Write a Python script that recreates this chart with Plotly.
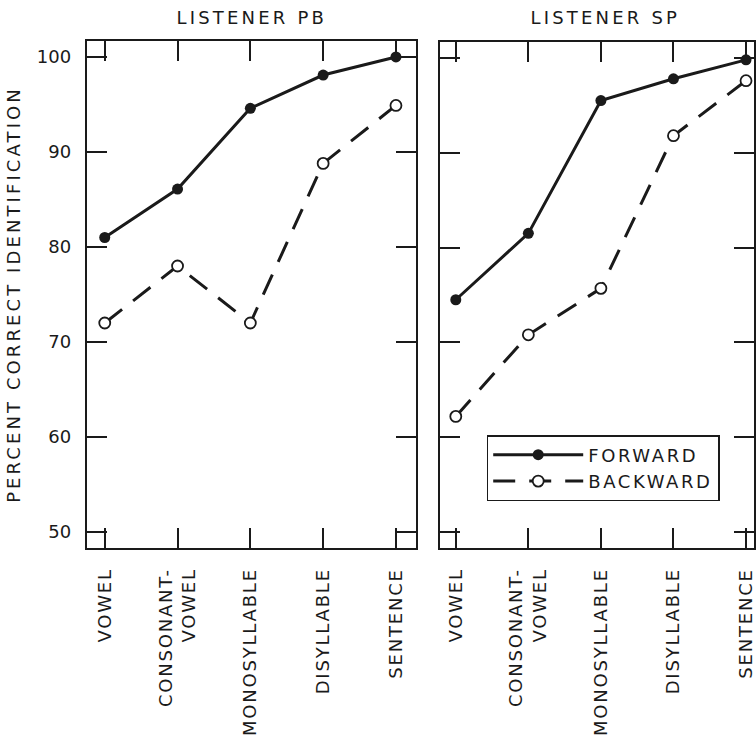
import plotly.graph_objects as go

categories = ["VOWEL", "CONSONANT-<br>VOWEL", "MONOSYLLABLE", "DISYLLABLE", "SENTENCE"]
pb_forward = [81.0, 86.1, 94.6, 98.1, 100.0]
pb_backward = [72.0, 78.0, 72.0, 88.8, 94.9]
sp_forward = [74.5, 81.5, 95.5, 97.8, 99.8]
sp_backward = [62.2, 70.8, 75.7, 91.8, 97.6]
y_ticks = [50, 60, 70, 80, 90, 100]

W, H = 756, 743
FONT = "DejaVu Sans"
INK = "#1a1a1a"
xpos = list(range(len(categories)))

fig = go.Figure()

def add_panel(fwd, bwd, xa, ya, showlegend):
    fig.add_trace(go.Scatter(
        x=xpos, y=fwd, mode="lines+markers", name="FORWARD",
        line=dict(color=INK, width=3),
        marker=dict(symbol="circle", size=11, color=INK),
        xaxis=xa, yaxis=ya, showlegend=showlegend))
    fig.add_trace(go.Scatter(
        x=xpos, y=bwd, mode="lines+markers", name="BACKWARD",
        line=dict(color=INK, width=3, dash="22px,14px"),
        marker=dict(symbol="circle", size=11, color="white",
                    line=dict(color=INK, width=1.8)),
        xaxis=xa, yaxis=ya, showlegend=showlegend))

add_panel(pb_forward, pb_backward, "x", "y", False)
add_panel(sp_forward, sp_backward, "x2", "y2", True)

def px_x(p):
    return p / W

def px_y(p):
    return 1 - p / H

axis_common = dict(
    showline=True, linecolor=INK, linewidth=2, mirror="ticks",
    ticks="inside", ticklen=20, tickwidth=1.6, tickcolor=INK,
    showgrid=False, zeroline=False,
)

xrange_left = [-0.247, 4.274]
xrange_right = [-0.22, 4.11]
yrange = [48.32, 101.68]

fig.update_layout(
    width=W, height=H,
    margin=dict(l=0, r=0, t=0, b=0),
    paper_bgcolor="white", plot_bgcolor="white",
    font=dict(family=FONT, size=18, color=INK),
    xaxis=dict(domain=[px_x(87), px_x(417)], range=xrange_left,
               tickvals=xpos, ticktext=categories, tickangle=-90,
               tickfont=dict(size=18), ticklabelstandoff=11,
               anchor="y", **axis_common),
    yaxis=dict(domain=[px_y(548), px_y(41)], range=yrange,
               tickvals=y_ticks, tickfont=dict(size=18),
               ticklabelstandoff=10, anchor="x",
               title=dict(text="PERCENT CORRECT IDENTIFICATION",
                          font=dict(size=18), standoff=12),
               automargin=False, **axis_common),
    xaxis2=dict(domain=[px_x(441), 1.0], range=xrange_right,
                tickvals=xpos, ticktext=categories, tickangle=-90,
                tickfont=dict(size=18), ticklabelstandoff=11,
                anchor="y2", **axis_common),
    yaxis2=dict(domain=[px_y(548), px_y(42)], range=yrange,
                tickvals=y_ticks, showticklabels=False, anchor="x2",
                **axis_common),
    legend=dict(x=px_x(488), y=px_y(435), xanchor="left", yanchor="top",
                bordercolor=INK, borderwidth=1.5, bgcolor="white",
                font=dict(size=18), itemwidth=90, tracegroupgap=0),
    annotations=[
        dict(text="LISTENER PB", x=px_x(252), y=px_y(18), xref="paper",
             yref="paper", showarrow=False, xanchor="center",
             yanchor="middle", font=dict(size=18)),
        dict(text="LISTENER SP", x=px_x(607), y=px_y(18), xref="paper",
             yref="paper", showarrow=False, xanchor="center",
             yanchor="middle", font=dict(size=18)),
    ],
)

# Letter-spaced lettering as in the original figure; applied as a stylesheet,
# then the legend font is touched so Plotly re-measures its box with the spacing.
post = """
var gd = document.getElementsByClassName('plotly-graph-div')[0];
var st = document.createElement('style');
st.textContent = '.annotation-text{letter-spacing:3.2px}' +
  '.ytitle{letter-spacing:3.1px}' +
  '.xtick text,.x2tick text{letter-spacing:1.8px}' +
  '.legendtext{letter-spacing:2.6px}';
document.head.appendChild(st);
Plotly.relayout(gd, {'legend.font.color': '#1a1a1b'});
"""

fig.write_html("out.html", post_script=post)
